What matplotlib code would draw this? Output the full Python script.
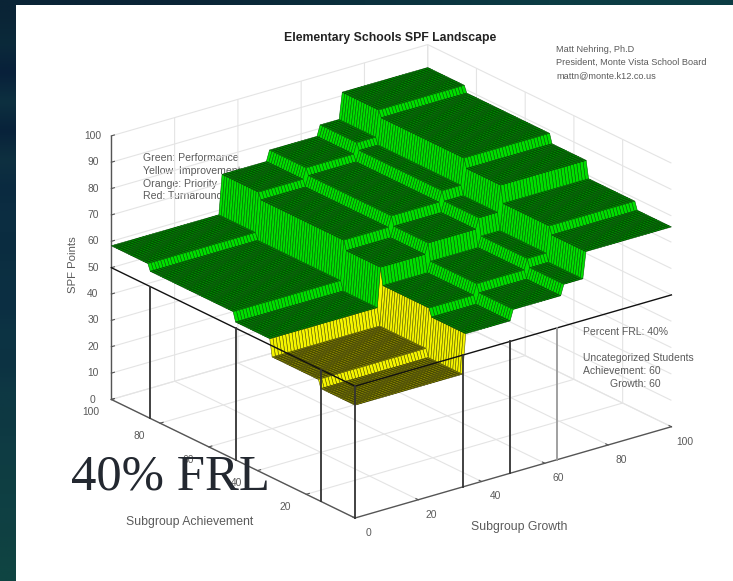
import numpy as np
import matplotlib
matplotlib.use("Agg")
import matplotlib.pyplot as plt
from matplotlib.colors import to_rgb, to_rgba
from matplotlib.patches import Rectangle
from matplotlib.transforms import Affine2D
from mpl_toolkits.mplot3d import proj3d

plt.rcParams['font.family'] = ['Liberation Sans', 'DejaVu Sans']

# --- values ---
base_points = 42.8
growth_breaks = [34, 49, 65, 72]
growth_levels = [0, 15, 19, 23, 33]
achievement_breaks = [14, 34, 49, 84]
achievement_levels = [0, 3, 9.5, 13, 15.5]
plane_points = 50
achievement_stems = [84, 49, 14, 0]
growth_stems = [34, 49, 64]
growth_ticks = [0, 20, 40, 60, 80, 100]
achievement_ticks = [20, 40, 60, 80, 100]
points_ticks = [0, 10, 20, 30, 40, 50, 60, 70, 80, 90, 100]
legend_lines = ["Green: Performance", "Yellow: Improvement", "Orange: Priority", "Red: Turnaround"]
author_lines = ["Matt Nehring, Ph.D", "President, Monte Vista School Board", "mattn@monte.k12.co.us"]
info_lines = ["Percent FRL: 40%", "Uncategorized Students", "Achievement: 60"]
info_growth = "Growth: 60"
band_colors = ['#0a2436', '#0b2a3a', '#08203a', '#0d3040', '#08223a', '#0e3040', '#0a2a40',
               '#0c2e42', '#0a2c40', '#0c3042', '#0b2e42', '#0d3444', '#0c3242', '#0e3844',
               '#0d3842', '#0f3c44', '#0e3e42', '#0f4044', '#0f4142', '#0f4442']
top_right_color = '#0c3c44'

W, H = 733, 581
fig = plt.figure(figsize=(W / 100, H / 100), dpi=100, facecolor='white')

# slide background and white panel
bands = np.array([[to_rgb(c), to_rgb(c)] for c in band_colors])
bands[0, 1] = to_rgb(top_right_color)
bg = fig.add_axes([0, 0, 1, 1], zorder=-10)
bg.imshow(bands, aspect='auto', interpolation='bilinear')
bg.set_axis_off()
fig.add_artist(Rectangle((16 / W, 0), 1 - 16 / W, 1 - 5 / H, transform=fig.transFigure, fc='white', ec='none', zorder=-9))

ax = fig.add_axes([0.1, 0.1, 0.8, 0.8], projection='3d', proj_type='ortho', computed_zorder=False, zorder=0)
ax.patch.set_alpha(0)
ax.view_init(elev=22, azim=-127.6)
ax.set_box_aspect((1, 1, 0.712))
ax.set_xlim(0, 100, view_margin=0)
ax.set_ylim(0, 100, view_margin=0)
ax.set_zlim(0, 100, view_margin=0)

g = np.arange(0, 101)
a = np.arange(0, 101)
G, A = np.meshgrid(g, a)
Z = (base_points
     + np.array(growth_levels)[np.searchsorted(growth_breaks, G)]
     + np.array(achievement_levels)[np.searchsorted(achievement_breaks, A)])
# flat-colour rule: a cell takes the colour of its lowest-index corner
low = Z[:-1, :-1] < plane_points
rise = (np.ptp(np.stack([Z[:-1, :-1], Z[1:, :-1], Z[:-1, 1:], Z[1:, 1:]]), axis=0) > 0)
face = np.zeros(low.shape + (4,))
edge = np.zeros(low.shape + (4,))
face[low & rise] = to_rgba('#f6f600')
face[low & ~rise] = to_rgba('#828200')
face[~low & rise] = to_rgba('#00e000')
face[~low & ~rise] = to_rgba('#008800')
edge[low & rise] = to_rgba('#606000')
edge[~low & rise] = to_rgba('#006400')
edge[low & ~rise] = to_rgba('#404000')
edge[~low & ~rise] = to_rgba('#004a00')
surf = ax.plot_surface(G, A, Z, facecolors=face, rstride=1, cstride=1, shade=False,
                       linewidth=0.42, antialiased=True, zorder=3)
surf.set_edgecolor(edge.reshape(-1, 4))

# threshold outline and stems
lc = '#111111'
ax.plot([0, 0], [0, 100], [plane_points] * 2, color=lc, lw=1.0, zorder=5)
ax.plot([0, 100], [0, 0], [plane_points] * 2, color=lc, lw=1.0, zorder=5)
for s in achievement_stems:
    ax.plot([0, 0], [s, s], [0, plane_points], color='#333333', lw=1.3, zorder=5)
for s in growth_stems:
    ax.plot([s, s], [0, 0], [0, plane_points], color='#999999' if s == 64 else '#333333', lw=1.3, zorder=5)

# axes
txt = '#5a5a5a'
ax.set_xticks(growth_ticks)
ax.set_yticks(achievement_ticks)
ax.set_zticks(points_ticks)
for axis in (ax.xaxis, ax.yaxis, ax.zaxis):
    axis.set_pane_color((1, 1, 1, 0))
    axis.pane.set_edgecolor((1, 1, 1, 0))
    axis.line.set_color('#555555')
    axis.line.set_linewidth(1.0)
    axis._axinfo['grid'].update(color='#e4e4e4', linewidth=0.8)
    axis._axinfo['tick'].update(inward_factor=0.0, outward_factor=0.12)
    axis.set_rotate_label(False)
ax.tick_params(axis='both', labelsize=7.4, labelcolor=txt, color='#555555', width=0.7, pad=0)
ax.tick_params(axis='z', labelsize=7.4, labelcolor=txt, color='#555555', width=0.7, pad=0)
ax.set_xlabel("Subgroup Growth", fontsize=8.8, color=txt, labelpad=2, rotation=0)
ax.set_ylabel("Subgroup Achievement", fontsize=8.8, color=txt, labelpad=2, rotation=0)
ax.set_zlabel("SPF Points", fontsize=8.2, color=txt, labelpad=2, rotation=90)


def nudge(artist, dx, dy):
    # mplot3d re-places its labels at draw time, so the pixel offset is applied there
    original = artist.draw

    def draw(renderer):
        artist.set_transform(ax.transData + Affine2D().translate(dx, dy))
        original(renderer)
    artist.draw = draw


for axis, (dx, dy) in ((ax.xaxis, (5, 3.5)), (ax.yaxis, (-10, 4.5)), (ax.zaxis, (1, 4))):
    for tick in axis.get_major_ticks():
        nudge(tick.label1, dx, dy)
nudge(ax.xaxis.label, -18, -16)
nudge(ax.yaxis.label, -12, -28)
nudge(ax.zaxis.label, 18, 0)


def px(p):
    x, y, _ = proj3d.proj_transform(p[0], p[1], p[2], ax.get_proj())
    return ax.transData.transform((x, y))


# place the axes so the box corners land where the reference has them
tO, tG, tA = np.array([355, H - 518.]), np.array([670, H - 427.]), np.array([110, H - 399.])
for _ in range(3):
    ax.apply_aspect()
    cO, cG, cA = px((0, 0, 0)), px((100, 0, 0)), px((0, 100, 0))
    s = np.linalg.norm(tG - tA) / np.linalg.norm(cG - cA)
    bb = ax.get_position()
    w, h = bb.width * s, bb.height * s
    cx, cy = bb.x0 + bb.width / 2, bb.y0 + bb.height / 2
    ax.set_position([cx - w / 2, cy - h / 2, w, h])
    ax.apply_aspect()
    d = tO - px((0, 0, 0))
    bb = ax.get_position()
    ax.set_position([bb.x0 + d[0] / W, bb.y0 + d[1] / H, bb.width, bb.height])


def ftext(x, y, s, **kw):
    kw.setdefault('color', txt)
    kw.setdefault('fontsize', 7.5)
    kw.setdefault('va', 'center')
    return fig.text(x / W, 1 - y / H, s, **kw)


ftext(390, 38, "Elementary Schools SPF Landscape", fontsize=8.8, fontweight='bold', color='#222222', ha='center')
for i, l in enumerate(legend_lines):
    ftext(143, 158 + i * 12.8, l, fontsize=7.6, zorder=-1)
for i, l in enumerate(author_lines):
    ftext(556, 49 + i * 13.3, l, fontsize=6.55)
ftext(583, 332, info_lines[0])
ftext(583, 358, info_lines[1])
ftext(583, 371, info_lines[2])
ftext(610, 384, info_growth)
ftext(71, 477, "40% FRL", family=['Liberation Serif'], fontsize=36.5, color='#232830', zorder=6)

fig.savefig('out.png', dpi=100)
